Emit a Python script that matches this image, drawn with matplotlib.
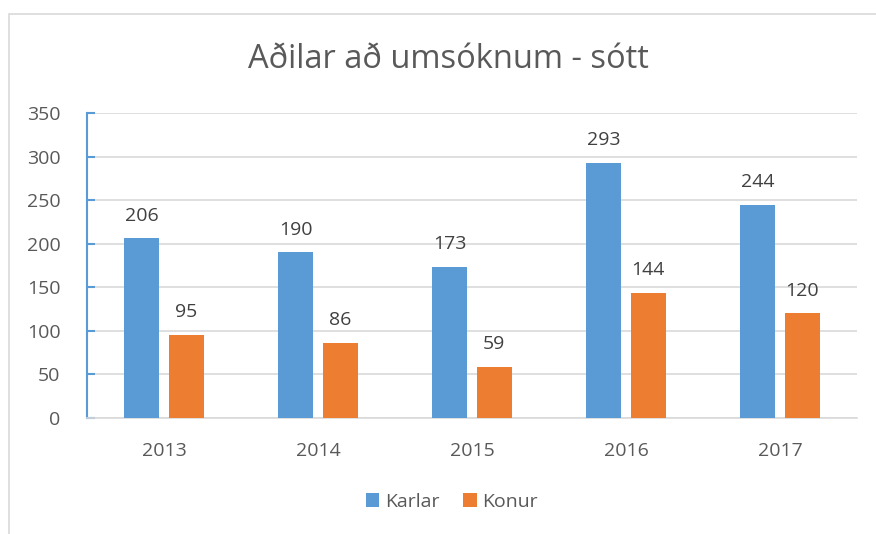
import matplotlib.pyplot as plt
import matplotlib.patches as mpatches
import numpy as np

years = ["2013", "2014", "2015", "2016", "2017"]
karlar = [206, 190, 173, 293, 244]
konur = [95, 86, 59, 144, 120]

plt.rcParams['font.family'] = ['Open Sans', 'DejaVu Sans']

fig = plt.figure(figsize=(8.76, 5.34), dpi=100)
W, H = 876, 534

# chart frame (gray border on left / top)
fig.patches.append(mpatches.Rectangle((9 / W, -0.1), 1.2, (534 - 14) / H + 0.1,
                                      transform=fig.transFigure, fill=False,
                                      edgecolor='#d9d9d9', linewidth=1.2))

ax = fig.add_axes([87 / W, (H - 418) / H, (857 - 87) / W, (418 - 113) / H])

x = np.arange(len(years))
w = 0.227
off = 0.144
b1 = ax.bar(x - off, karlar, w, color='#5b9bd5', label='Karlar', zorder=3)
b2 = ax.bar(x + off, konur, w, color='#ed7d31', label='Konur', zorder=3)

for bars in (b1, b2):
    for r in bars:
        ax.annotate(str(int(r.get_height())), (r.get_x() + r.get_width() / 2, r.get_height()),
                    xytext=(0, 10), textcoords='offset points', ha='center', va='bottom',
                    fontsize=14, color='#404040')

ax.set_xlim(-0.5, 4.5)
ax.set_ylim(0, 350)
ax.set_yticks(range(0, 351, 50))
ax.set_xticks(x)
ax.set_xticklabels(years)
ax.yaxis.grid(True, color='#d9d9d9', linewidth=1.2, zorder=0)
ax.set_axisbelow(True)

for s in ['top', 'right']:
    ax.spines[s].set_visible(False)
ax.spines['left'].set_color('#5b9bd5')
ax.spines['left'].set_linewidth(1.5)
ax.spines['bottom'].set_color('#d9d9d9')
ax.spines['bottom'].set_linewidth(1.2)

ax.tick_params(axis='y', direction='in', length=6, color='#5b9bd5', width=1.5,
               labelsize=14, labelcolor='#595959', pad=19)
ax.tick_params(axis='x', length=0, labelsize=14, labelcolor='#595959', pad=17)

fig.text(448 / W, 1 - 60 / H, 'Aðilar að umsóknum - sótt', ha='center', va='center',
         fontsize=23.5, color='#595959')

fig.legend(handles=[b1, b2], labels=['Karlar', 'Konur'], loc='center',
           bbox_to_anchor=(452 / W, 1 - 502 / H), ncol=2, frameon=False,
           fontsize=14, labelcolor='#595959', handlelength=0.7, handleheight=0.7,
           handletextpad=0.3, columnspacing=1.2)

fig.savefig('out.png', dpi=100)
